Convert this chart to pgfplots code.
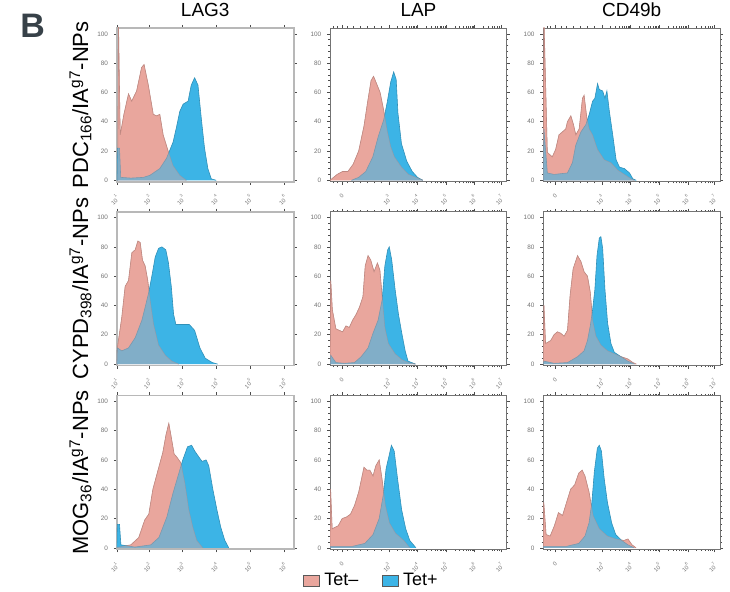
\documentclass[border=0pt]{standalone}
\usepackage{fontspec}
\setmainfont{Liberation Sans}
\usepackage{pgfplots}
\pgfplotsset{compat=1.18}
\usepackage{pgfplotstable}
\usepgfplotslibrary{groupplots}
\usetikzlibrary{calc}

\definecolor{tetneg}{RGB}{233,166,157}
\definecolor{tetpos}{RGB}{60,180,230}
\definecolor{panelB}{RGB}{55,65,72}

% histograms: x = position across the axis (0-100), y = % of max
\pgfplotstableread{
x y
0.5 0
0.9 110
1.9 31
4 45
6.6 59
8.4 54
11.2 61
14 77
15.4 79
17.8 65
20.6 45
22.5 44
24.3 45
26.2 31
29 20
31.8 10
35.6 3.4
39.3 0
}\Paa
\pgfplotstableread{
x y
0 0
0.3 22
1.5 22
2.2 2
8 1.5
15 2
18.7 3.4
24.3 8
28.1 15
31.8 26
33.7 36
35.6 47
37.5 52
40.3 54
42.1 65
44 70
45.9 65
47.8 42
49.6 22
51.5 8
53.4 1
56.2 0
}\Baa
\pgfplotstableread{
x y
0 0
4 4
7.1 6
10.1 6
13.1 11
16.2 20
19.2 37
21.2 53
23.2 68
24.6 71
26.3 66
28.3 60
30.3 48
32.3 34
34.3 23
36.4 16
40.4 9
44.4 4
48.5 2
52.5 0
}\Pab
\pgfplotstableread{
x y
12.1 0
16.2 2
20.2 6
24.2 16
27.3 30
30.3 41
32.3 53
34.3 67
36 74
37.4 69
38.4 46
40.4 25
43.4 13
46.5 6
49.5 2
52.5 0
}\Bab
\pgfplotstableread{
x y
0 0
0.4 110
2.3 19
5.1 16
7 21
8.9 31
10.8 33
12.7 35
13.7 40
15.6 44
17.1 38
18.4 31
20.3 35
22.2 56
23.1 58
24.7 42
26 35
27.9 31
30.7 21
34.5 14
38.3 12
42.1 7
45.9 4
49.7 1
51.6 0
}\Pac
\pgfplotstableread{
x y
0 0
0.4 35
2.3 5
6.1 4
13.7 5
16.5 12
18.4 24
21.3 33
24.1 38
26 45
27.9 54
29.2 56
30.7 66
31.7 62
33.6 61
34.9 56
36 61
37.4 47
39.3 31
41.2 14
43.1 9
45.9 8
48.8 5
50.7 1
52.6 0
}\Bac
\pgfplotstableread{
x y
0 0
0.3 11
2.8 32
4.7 53
6.6 57
8.5 76
10.4 78
11.9 84
13.2 83
14.5 71
16 67
17.5 57
18.9 43
20.8 27
23.6 13
27.4 6
31.1 2
34.9 0
}\Pba
\pgfplotstableread{
x y
0 0
0.3 11
2.8 9
6.6 11
10.4 18
14.2 30
17.9 48
19.8 60
21.7 73
23.6 79
25.5 80
27.7 78
29.2 69
30.8 53
32.1 34
33.4 27
36 27
41 27
44 23
47 11
50 4
54 1
57 0
}\Bba
\pgfplotstableread{
x y
0 0
0.4 57
1.3 37
3.3 24
5.2 23
7.1 22
9 26
10.9 25
12.8 30
14.8 34
16.7 39
18.6 46
19.9 67
21.5 74
23 71
24.9 63
26.8 69
28.2 64
29.5 46
31 25
33 14
36.8 7
40.6 3
44.4 1
48.3 0
}\Pbb
\pgfplotstableread{
x y
0 0
0.4 6
3.3 1
8 0.5
13.8 1
17.6 5
21.5 11
24.3 21
27.2 30
29.5 44
31 67
32.6 78
33.5 80
34.9 71
36.8 51
38.7 34
40.6 21
42.5 9
44.1 2
48.3 0
}\Bbb
\pgfplotstableread{
x y
0 0
0.4 40
1.3 14
4.2 16
6.1 20
8 22
9.9 21
11.8 19
13.7 23
15.2 47
16.9 65
19.4 74
21.3 70
23.1 63
25 60
26.6 49
27.9 30
29.8 19
32.6 13
36.4 9
40.2 7
44 5
47.8 3.5
50.7 1
52.6 0
}\Pbc
\pgfplotstableread{
x y
0 0
0.4 2
6.1 0.5
13.7 1
19.4 5
23.1 9
25 16
26.6 26
27.9 37
29.2 51
30.4 74
31.7 86
32.6 87
33.6 79
34.9 51
36.4 28
38.3 14
40.2 8
44 5
47.8 2
51.6 0
}\Bbc
\pgfplotstableread{
x y
0 0
1.1 0.5
7.9 2
12.4 7
15.8 19
18.1 23
20.4 40
23.3 53
26 65
27.8 77
29.4 85
31 74
32.4 64
33.9 62
36.2 58
38.5 44
40.7 26
43 14
45.2 5
48.6 0
}\Pca
\pgfplotstableread{
x y
0 0
0.3 16
1.5 16
2.3 2
10.2 0.5
19.2 2
23.8 7
28.3 21
31.7 37
35.1 51
37.3 60
40 69
42.3 70
44.1 66
46.4 62
48.2 59
50.5 60
52 56
54.3 40
56.6 26
58.8 14
61.1 5
63.3 0
}\Bca
\pgfplotstableread{
x y
0 0
0.3 40
1.2 13
4.6 15
6.9 20
9.3 21
11.6 23
13.9 29
16.2 38
17.8 47
19.2 55
20.8 53
22.5 53
24.3 49
25.9 56
27.8 60
29.4 47
31.3 29
33.6 17
37 10
41.7 5
45.1 0
}\Pcb
\pgfplotstableread{
x y
0 0
0.3 1
12.7 1
19.7 3
24.3 9
27.8 20
30.1 36
31.7 54
33.6 64
34.7 70
36.3 66
38.2 47
40.5 26
42.8 13
45.1 5
48.6 0
}\Bcb
\pgfplotstableread{
x y
0 0
0.3 31
1.6 9
3.9 8
6.3 15
8.6 24
10.9 22
13.2 31
15.5 40
17.8 43
20.1 51
22 53
23.6 49
25.9 38
28.2 22
31.7 13
36.3 8
41 6
45.6 5
47.9 6
50.2 2
52.5 0
}\Pcc
\pgfplotstableread{
x y
0 0
0.3 1
13.2 1
20.1 3
23.6 8
25.9 17
27.5 31
28.9 52
30.6 68
31.7 70
32.9 66
34.5 47
36.3 31
38.7 17
41 9
44.4 5
47.9 2
51.4 0
}\Bcc

\newcommand\ten[1]{10\textsuperscript{#1}}
\pgfplotsset{
  facs/.style={
    width=88.5pt, height=77pt, scale only axis,
    xmin=0, xmax=100, ymin=-1, ymax=104,
    ytick={0,20,...,100},
    /pgf/number format/assume math mode=true,
    yticklabel style={font=\fontsize{3.2}{3.5}\selectfont, text=black!55, xshift=0.6pt},
    xticklabel style={font=\fontsize{2.9}{3.2}\selectfont, text=black!55, rotate=45, anchor=north east, yshift=0.8pt},
    tick align=outside, major tick length=1.5pt, minor tick length=0.8pt,
    tick style={black!70, line width=0.3pt},
    axis line style={black!55, line width=0.4pt},
    clip mode=individual,
    title style={font=\fontsize{9.5}{11}\selectfont, anchor=base, yshift=-0.3pt},
  },
  lag/.style={
    xtick={0,18.5,37.3,56.5,75.5,95},
    xticklabels={\ten{1},\ten{2},\ten{3},\ten{4},\ten{5},\ten{6}},
    axis line style={black!28, line width=0.9pt},
  },
  bx/.style={
    xtick={7,33.3,49.5,65.7,81.8,97},
    xticklabels={0,\ten{3},\ten{4},\ten{5},\ten{6},\ten{7}},
    minor xtick={2,4,10,13,17,21,25,29,38.2,41,43.1,44.6,45.9,47,47.9,48.8,54.4,57.2,59.3,60.8,62.1,63.2,64.1,65,70.6,73.4,75.5,77,78.3,79.4,80.3,81.2,86.7,89.5,91.6,93.1,94.4,95.5},
    minor y tick num=4,
  },
  neg/.style={fill=tetneg, draw=tetneg!80!black, line width=0.3pt, forget plot},
  pos/.style={fill=tetpos, draw=tetpos!80!black, line width=0.3pt, forget plot},
  mix/.style={fill=tetneg, fill opacity=0.4, draw=tetneg!80!black, draw opacity=0.4, line width=0.3pt, forget plot},
}
\newcommand\hist[2]{%
  \addplot[neg] table {#1};
  \addplot[pos] table {#2};
  \addplot[mix] table {#1};
}
\newcommand\rowlabel[1]{%
  \node[rotate=90, anchor=base, font=\fontsize{11}{13}\selectfont] at (rel axis cs:-0.163,0.5) {#1};
}

\begin{document}
\begin{tikzpicture}
\begin{groupplot}[
  group style={group size=3 by 3, horizontal sep=18.25pt, vertical sep=15pt},
  facs,
]
\nextgroupplot[lag, title={LAG3}]
\hist{\Paa}{\Baa}
\rowlabel{PDC\textsubscript{166}/IA\textsuperscript{g7}-NPs}
\nextgroupplot[bx, title={LAP}]
\hist{\Pab}{\Bab}
\nextgroupplot[bx, title={CD49b}]
\hist{\Pac}{\Bac}

\nextgroupplot[lag]
\hist{\Pba}{\Bba}
\rowlabel{CYPD\textsubscript{398}/IA\textsuperscript{g7}-NPs}
\nextgroupplot[bx]
\hist{\Pbb}{\Bbb}
\nextgroupplot[bx]
\hist{\Pbc}{\Bbc}

\nextgroupplot[lag]
\hist{\Pca}{\Bca}
\rowlabel{MOG\textsubscript{36}/IA\textsuperscript{g7}-NPs}
\nextgroupplot[bx,
  legend style={at={(0.24,-0.205)}, anchor=center, draw=none, fill=none,
    legend columns=2, font=\fontsize{9}{10}\selectfont,
    /tikz/every even column/.append style={column sep=10pt}},
  legend image code/.code={\draw[#1, draw=black!65, line width=0.5pt] (0pt,-2.7pt) rectangle (8pt,2.7pt);},
]
\addlegendimage{fill=tetneg}
\addlegendentry{Tet\textendash}
\addlegendimage{fill=tetpos}
\addlegendentry{Tet+}
\hist{\Pcb}{\Bcb}
\nextgroupplot[bx]
\hist{\Pcc}{\Bcc}
\end{groupplot}
\node[anchor=base west, inner sep=0pt, text=panelB, font=\bfseries\fontsize{17}{20}\selectfont]
  at ($(group c1r1.north west)+(-48.5pt,-5pt)$) {B};
\pgfresetboundingbox
\path ($(group c1r1.north west)+(-58.5pt,14pt)$) rectangle ($(group c3r3.south east)+(5pt,-21pt)$);
\end{tikzpicture}
\end{document}
